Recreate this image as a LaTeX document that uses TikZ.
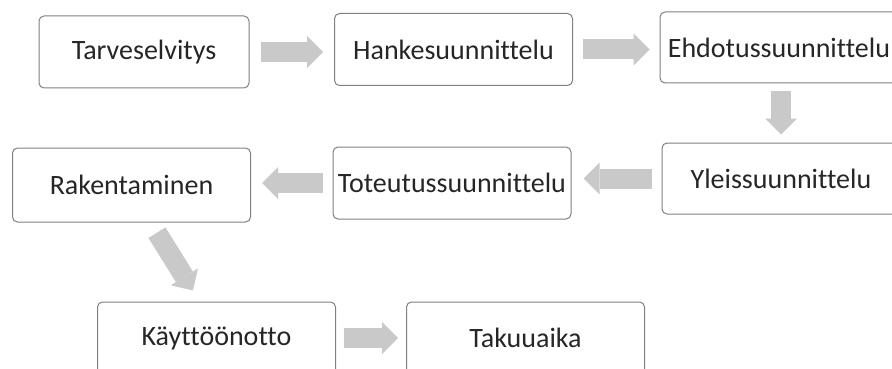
\documentclass[tikz,border=0pt]{standalone}
\usepackage{fontspec}
\setmainfont{Carlito}[Ligatures=NoCommon]
\usetikzlibrary{arrows.meta, calc}
\definecolor{textBlack}{gray}{0.15}
\definecolor{boxGray}{gray}{0.5}
\definecolor{arrowGray}{gray}{0.79}

\begin{document}
\begin{tikzpicture}[x=1pt, y=-1pt,
    phase/.style={draw=boxGray, line width=1pt, rounded corners=5pt, fill=white,
        text=textBlack, font=\fontsize{28}{32}\selectfont,
        minimum width=238pt, minimum height=72pt, inner sep=0pt},
    flow/.style={draw=arrowGray, line width=20pt,
        -{Triangle[length=16pt, width=32pt, line width=0pt]}}]
    \clip (0,0) rectangle (892,369);
    \fill[white] (0,0) rectangle (892,369);

    % Phases, top row
    \node[phase, minimum width=210pt] (tarve) at (144,52) {Tarveselvitys};
    \node[phase] (hanke) at (453.5,49.5) {Hankesuunnittelu};
    \node[phase, minimum height=71pt] (ehdot) at (779,47.5) {Ehdotussuunnittelu};

    % Middle row
    \node[phase, minimum height=71pt] (yleis) at (781,178.5) {Yleissuunnittelu};
    \node[phase] (toteu) at (452,183) {Toteutussuunnittelu};
    \node[phase, minimum height=74pt] (rak) at (131.5,185) {Rakentaminen};

    % Bottom row (cut by the page edge)
    \node[phase] (kay) at (216.5,338) {Käyttöönotto};
    \node[phase] (takuu) at (525.5,338) {Takuuaika};

    % Block arrows
    \draw[flow, shorten <=11pt, shorten >=11pt] (tarve.east) -- (tarve.east -| hanke.west);
    \draw[flow, shorten <=10pt, shorten >=10pt] (hanke.east) -- (hanke.east -| ehdot.west);
    \draw[flow, shorten <=8pt, shorten >=8pt] (ehdot.south -| yleis.north) -- (yleis.north);
    \draw[flow, shorten <=10pt, shorten >=12pt] (yleis.west) -- (yleis.west -| toteu.east);
    \draw[flow, shorten <=10pt, shorten >=11pt] (toteu.west) -- (toteu.west -| rak.east);
    \draw[flow, shorten <=12pt, shorten >=13pt]
        ($(rak.south)!0.16!(rak.south east)$) -- ($(kay.north)!0.14!(kay.north west)$);
    \draw[flow, shorten <=8pt, shorten >=8pt] (kay.east) -- (kay.east -| takuu.west);
\end{tikzpicture}
\end{document}
